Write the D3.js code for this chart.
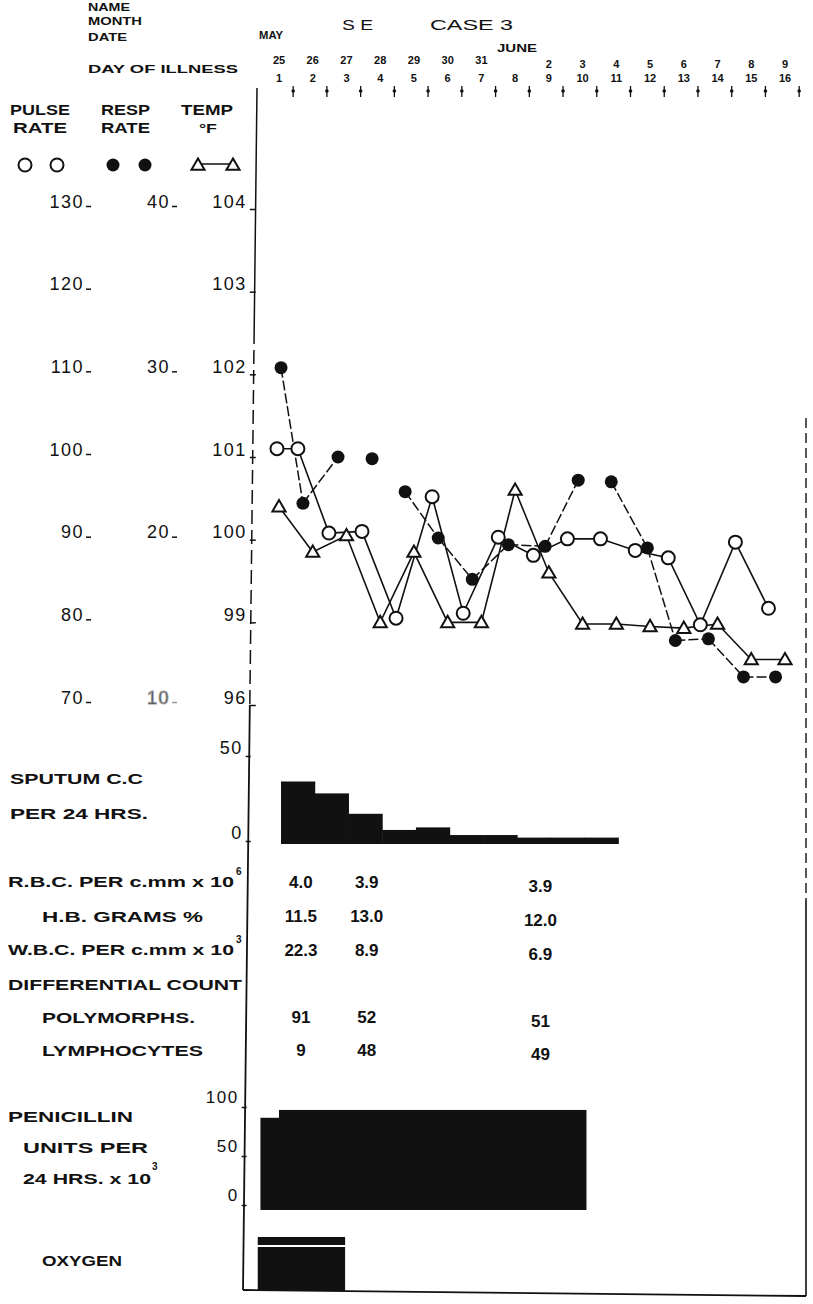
<!DOCTYPE html>
<html><head><meta charset="utf-8">
<script src="https://cdn.jsdelivr.net/npm/d3@7"></script>
<style>
body{margin:0;background:#fff}
svg{display:block}
text{font-family:"Liberation Sans",Arial,sans-serif;fill:#111}
</style>
</head><body>
<svg id="chart" width="813" height="1304"></svg>
<script>
// ---------- data ----------
const days = [1,2,3,4,5,6,7,8,9,10,11,12,13,14,15,16];
const dateLabels = ["25","26","27","28","29","30","31","","2","3","4","5","6","7","8","9"];
const dayLabels = ["1","2","3","4","5","6","7","8","9","10","11","12","13","14","15","16"];

const tempTicks = [104,103,102,101,100,99,98];
const tempTickLabels = ["104","103","102","101","100","99","96"];
const pulseTicks = [130,120,110,100,90,80,70];
const respTicks = [40,30,20,10];

const tempValues = [100.4,99.85,100.05,99.0,99.85,99.0,99.0,100.6,99.6,98.98,98.98,98.95,98.93,98.98,98.55,98.55];

const pulseDays = [0.94,1.56,2.48,3.46,4.47,5.54,6.46,7.5,8.54,9.55,10.53,11.56,12.54,13.49,14.53,15.51];
const pulseValues = [101,101,90.8,91,80.5,95.2,81.1,90.3,88.1,90.1,90.1,88.7,87.8,79.7,89.7,81.7];

const respDays = [1.06,1.71,2.75,3.76,4.74,5.72,6.73,7.8,8.89,9.87,10.85,11.92,12.75,13.73,14.77,15.72];
const respValues = [30.4,22.2,25.0,24.9,22.9,20.1,17.6,19.7,19.6,23.6,23.5,19.5,13.9,14.0,11.7,11.7];
const respLinked = [false,true,true,false,false,true,true,true,true,true,false,true,true,true,true,true];

const sputumDays = [1,2,3,4,5,6,7,8,9,10];
const sputumValues = [35,28,16,6.5,8,3.5,3.5,2,2,2];
const sputumTicks = [50,0];

const countDays = [1.65,3.6,8.75];
const rbcValues = ["4.0","3.9","3.9"];
const hbValues = ["11.5","13.0","12.0"];
const wbcValues = ["22.3","8.9","6.9"];
const polyValues = ["91","52","51"];
const lymphValues = ["9","48","49"];

const penStart = [0.45,1];
const penEnd = [1,10.1];
const penValues = [89,97];
const penTicks = [100,50,0];

const oxygenStart = [0.37];
const oxygenEnd = [2.96];

// ---------- scales ----------
const svg = d3.select("#chart");
const x = d3.scaleLinear().domain([1,16]).range([279,785]);
const yT = d3.scaleLinear().domain([98,104]).range([705,209]);
const yP = d3.scaleLinear().domain([70,130]).range([705,209]);
const yR = d3.scaleLinear().domain([10,40]).range([705,209]);
const yS = d3.scaleLinear().domain([0,50]).range([841,756]);
const yPen = d3.scaleLinear().domain([0,100]).range([1205,1107]);
const ink = "#111";

function label(t, px, py, size, len, weight, anchor){
  const el = svg.append("text").attr("x",px).attr("y",py)
    .attr("font-size",size).attr("font-weight",weight||"bold")
    .attr("text-anchor",anchor||"start").text(t);
  if(len) el.attr("textLength",len).attr("lengthAdjust","spacingAndGlyphs");
  return el;
}

// ---------- header ----------
label("NAME",88,11,11,42);
label("MONTH",88,25,11,54);
label("DATE",88,41,11,39);
label("DAY OF ILLNESS",88,73,11,150);
label("S E",342,30,14,31,"normal");
label("CASE  3",430,30,14,83,"normal");
label("MAY",259,39,10,24);
label("JUNE",497,52,10,40);

svg.append("g").selectAll("text").data(days).join("text")
  .attr("x",d=>x(d)).attr("y",d=>d<=8?64:68)
  .attr("text-anchor","middle").attr("font-size",11).attr("font-weight","bold")
  .text((d,i)=>dateLabels[i]);
svg.append("g").selectAll("text").data(days).join("text")
  .attr("x",d=>x(d)).attr("y",82)
  .attr("text-anchor","middle").attr("font-size",11).attr("font-weight","bold")
  .text((d,i)=>dayLabels[i]);

// day markers (small down ticks)
const mk = svg.append("g").selectAll("g").data(days).join("g")
  .attr("transform",d=>`translate(${x(d+0.42)},0)`);
mk.append("line").attr("y1",86).attr("y2",97).attr("stroke",ink).attr("stroke-width",1.3);
mk.append("circle").attr("cy",91).attr("r",1.8).attr("fill",ink);

// ---------- left labels ----------
label("PULSE",10,115,15,60);
label("RATE",13,133,15,54);
label("RESP",101,115,15,49);
label("RATE",101,133,15,49);
label("TEMP",181,115,15,52);
label("°F",199,133,13,18);

// legend
const lg = svg.append("g");
[25,57].forEach(cx=>lg.append("circle").attr("cx",cx).attr("cy",165).attr("r",6.5).attr("fill","#fff").attr("stroke",ink).attr("stroke-width",2));
[113,145].forEach(cx=>lg.append("circle").attr("cx",cx).attr("cy",165).attr("r",6.5).attr("fill",ink));
lg.append("line").attr("x1",200).attr("x2",232).attr("y1",164).attr("y2",164).attr("stroke",ink).attr("stroke-width",1.5);
const tri = d3.symbol().type(d3.symbolTriangle).size(75);
[198,233].forEach(cx=>lg.append("path").attr("d",tri).attr("transform",`translate(${cx},166)`).attr("fill","#fff").attr("stroke",ink).attr("stroke-width",2));

// ---------- vertical frame ----------
const frameX = yy => 257 - 14*(yy-88)/1202;
svg.append("line").attr("x1",frameX(88)).attr("y1",88).attr("x2",frameX(330)).attr("y2",330).attr("stroke",ink).attr("stroke-width",1.5);
svg.append("line").attr("x1",frameX(330)).attr("y1",330).attr("x2",frameX(705)).attr("y2",705).attr("stroke",ink).attr("stroke-width",1.5).attr("stroke-dasharray","14,6");
svg.append("line").attr("x1",frameX(705)).attr("y1",705).attr("x2",frameX(1290)).attr("y2",1290).attr("stroke",ink).attr("stroke-width",1.8);
svg.append("line").attr("x1",frameX(1290)).attr("y1",1290).attr("x2",806).attr("y2",1296).attr("stroke",ink).attr("stroke-width",1.8);
svg.append("line").attr("x1",806).attr("y1",418).attr("x2",806).attr("y2",900).attr("stroke",ink).attr("stroke-width",1.4).attr("stroke-dasharray","10,5");
svg.append("line").attr("x1",806).attr("y1",900).attr("x2",806).attr("y2",1296).attr("stroke",ink).attr("stroke-width",1.6);

// ---------- axes ----------
function styleAxis(g, size){
  g.select(".domain").remove();
  g.selectAll("text").attr("font-size",size).attr("font-family","'Liberation Sans',Arial,sans-serif")
    .attr("fill",ink).attr("letter-spacing",1.5).attr("dy","-0.1em");
  g.selectAll("line").attr("stroke",ink).attr("stroke-width",1.5);
}
const gT = svg.append("g").attr("transform",`translate(${frameX(450)+3},0)`)
  .call(d3.axisLeft(yT).tickValues(tempTicks).tickSize(6).tickPadding(3).tickFormat((d,i)=>tempTickLabels[i]));
styleAxis(gT,18);
const gP = svg.append("g").attr("transform","translate(91,0)")
  .call(d3.axisLeft(yP).tickValues(pulseTicks).tickSize(5).tickPadding(2));
styleAxis(gP,18);
gP.selectAll("line").attr("transform","translate(0,-3)");
const gR = svg.append("g").attr("transform","translate(177,0)")
  .call(d3.axisLeft(yR).tickValues(respTicks).tickSize(5).tickPadding(2));
styleAxis(gR,18);
gR.selectAll("line").attr("transform","translate(0,-3)");
gR.selectAll(".tick").filter(d=>d===10).selectAll("text,line").attr("fill","#999").attr("stroke","#999");

// ---------- chart lines ----------
const lineT = d3.line().x((d,i)=>x(days[i])).y(d=>yT(d));
svg.append("path").attr("d",lineT(tempValues)).attr("fill","none").attr("stroke",ink).attr("stroke-width",1.6);
const lineP = d3.line().x((d,i)=>x(pulseDays[i])).y(d=>yP(d));
svg.append("path").attr("d",lineP(pulseValues)).attr("fill","none").attr("stroke",ink).attr("stroke-width",1.6);
const respPairs = respValues.map((v,i)=>i).filter(i=>i>0 && respLinked[i]);
svg.append("g").selectAll("line").data(respPairs).join("line")
  .attr("x1",i=>x(respDays[i-1])).attr("y1",i=>yR(respValues[i-1]))
  .attr("x2",i=>x(respDays[i])).attr("y2",i=>yR(respValues[i]))
  .attr("stroke",ink).attr("stroke-width",1.5).attr("stroke-dasharray","10,3");

// markers
svg.append("g").selectAll("circle").data(respValues).join("circle")
  .attr("cx",(d,i)=>x(respDays[i])).attr("cy",d=>yR(d)).attr("r",6.5).attr("fill",ink);
svg.append("g").selectAll("circle").data(pulseValues).join("circle")
  .attr("cx",(d,i)=>x(pulseDays[i])).attr("cy",d=>yP(d)).attr("r",6.5)
  .attr("fill","#fff").attr("stroke",ink).attr("stroke-width",2);
svg.append("g").selectAll("path").data(tempValues).join("path")
  .attr("d",tri).attr("transform",(d,i)=>`translate(${x(days[i])},${yT(d)+1})`)
  .attr("fill","#fff").attr("stroke",ink).attr("stroke-width",2);

// ---------- sputum ----------
label("SPUTUM  C.C",10,784,15,133);
label("PER  24  HRS.",10,819,15,138);
const gS = svg.append("g").attr("transform",`translate(${frameX(800)+2},0)`)
  .call(d3.axisLeft(yS).tickValues(sputumTicks).tickSize(5).tickPadding(3));
styleAxis(gS,18);
gS.selectAll("text").attr("dy","-0.15em");
svg.append("g").selectAll("rect").data(sputumValues).join("rect")
  .attr("x",(d,i)=>x(sputumDays[i])+2).attr("width",(d,i)=>x(sputumDays[i]+1)-x(sputumDays[i])+0.5)
  .attr("y",d=>yS(d)).attr("height",d=>yS(0)-yS(d)+3).attr("fill",ink);

// ---------- blood counts ----------
label("R.B.C. PER c.mm x 10",8,887,15,226);
label("6",236,875,10,null);
label("H.B.  GRAMS  %",42,922,15,161);
label("W.B.C. PER c.mm x 10",8,955,15,226);
label("3",236,943,10,null);
label("DIFFERENTIAL COUNT",8,990,15,234);
label("POLYMORPHS.",42,1023,15,153);
label("LYMPHOCYTES",42,1056,15,161);
const countRows = [[rbcValues,888],[hbValues,922],[wbcValues,956],[polyValues,1023],[lymphValues,1056]];
countRows.forEach(([vals,yy])=>{
  svg.append("g").selectAll("text").data(vals).join("text")
    .attr("x",(d,i)=>x(countDays[i])).attr("y",(d,i)=>yy+(i===2?4:0))
    .attr("text-anchor","middle").attr("font-size",17).attr("font-weight","bold").text(d=>d);
});

// ---------- penicillin ----------
label("PENICILLIN",8,1122,15,125);
label("UNITS PER",23,1153,15,125);
label("24 HRS. x 10",23,1184,15,128);
label("3",152,1170,10,null);
const gPen = svg.append("g").attr("transform",`translate(${frameX(1150)+2},0)`)
  .call(d3.axisLeft(yPen).tickValues(penTicks).tickSize(5).tickPadding(3));
styleAxis(gPen,17);
gPen.selectAll("text").attr("dy","-0.25em");
svg.append("g").selectAll("rect").data(penValues).join("rect")
  .attr("x",(d,i)=>x(penStart[i])).attr("width",(d,i)=>x(penEnd[i])-x(penStart[i])+0.5)
  .attr("y",d=>yPen(d)).attr("height",d=>yPen(0)-yPen(d)+5).attr("fill",ink);

// ---------- oxygen ----------
label("OXYGEN",42,1266,15,80);
const ox = svg.append("g").selectAll("g").data(oxygenStart).join("g");
ox.append("rect").attr("x",(d,i)=>x(d)).attr("width",(d,i)=>x(oxygenEnd[i])-x(d))
  .attr("y",1237).attr("height",8).attr("fill",ink);
ox.append("rect").attr("x",(d,i)=>x(d)).attr("width",(d,i)=>x(oxygenEnd[i])-x(d))
  .attr("y",1247).attr("height",44).attr("fill",ink);
</script>
</body></html>
